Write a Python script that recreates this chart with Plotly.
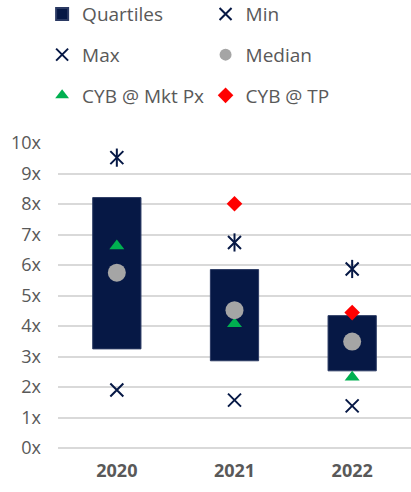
import plotly.graph_objects as go

# Valuation multiples by year
years = ["2020", "2021", "2022"]
q1 = [3.25, 2.86, 2.53]
q3 = [8.21, 5.85, 4.34]
v_min = [1.90, 1.57, 1.38]
v_max = [9.52, 6.74, 5.87]
median = [5.75, 4.52, 3.49]
cyb_mkt = [6.62, 4.07, 2.32]
cyb_tp = [None, 8.01, 4.44]
y_ticks = list(range(0, 11))
y_tick_text = [f"{v}x" for v in y_ticks]

NAVY = "#061845"
GRAY_TXT = "#595959"
FONT = "Open Sans"

fig = go.Figure()

# Inter-quartile box drawn as a floating bar from Q1 to Q3
fig.add_trace(go.Bar(
    x=years, y=[b - a for a, b in zip(q1, q3)], base=q1,
    name="Quartiles", marker=dict(color=NAVY, line=dict(color="#2b3a63", width=1)),
    width=0.41, legend="legend", legendgroup="q", hoverinfo="skip",
))
# Max: an X plus a vertical stroke
fig.add_trace(go.Scatter(
    x=years, y=v_max, mode="markers", name="Max",
    marker=dict(symbol="x-thin", size=13, line=dict(color=NAVY, width=2)),
    legend="legend", legendgroup="max",
))
fig.add_trace(go.Scatter(
    x=years, y=v_max, mode="markers", name="Max", showlegend=False,
    marker=dict(symbol="line-ns", size=13, line=dict(color=NAVY, width=2)),
    legend="legend", legendgroup="max",
))
fig.add_trace(go.Scatter(
    x=years, y=cyb_mkt, mode="markers", name="CYB @ Mkt Px",
    marker=dict(symbol="triangle-up", size=13, color="#00b050"),
    legend="legend", legendgroup="mkt",
))
fig.add_trace(go.Scatter(
    x=years, y=v_min, mode="markers", name="Min",
    marker=dict(symbol="x-thin", size=13, line=dict(color=NAVY, width=2)),
    legend="legend2", legendgroup="min",
))
fig.add_trace(go.Scatter(
    x=years, y=median, mode="markers", name="Median",
    marker=dict(symbol="circle", size=18, color="#a5a5a5"),
    legend="legend2", legendgroup="med",
))
fig.add_trace(go.Scatter(
    x=years, y=cyb_tp, mode="markers", name="CYB @ TP",
    marker=dict(symbol="diamond", size=12, color="#ff0000"),
    legend="legend2", legendgroup="tp",
))

legend_common = dict(
    orientation="v", yref="paper", y=1.485, yanchor="top", xanchor="left",
    font=dict(family=FONT, size=19, color=GRAY_TXT),
    tracegroupgap=13, bgcolor="rgba(0,0,0,0)", itemsizing="constant",
    traceorder="grouped",
)

fig.update_layout(
    width=411, height=492,
    margin=dict(l=58, r=0, t=143, b=44, autoexpand=False),
    paper_bgcolor="white", plot_bgcolor="white",
    font=dict(family=FONT, color=GRAY_TXT),
    showlegend=True,
    legend=dict(x=-0.045, **legend_common),
    legend2=dict(x=0.418, **legend_common),
    xaxis=dict(
        showgrid=False, showline=False, ticks="",
        tickfont=dict(family=FONT, size=18, color=GRAY_TXT, weight="bold"),
        ticklabelstandoff=10,
    ),
    yaxis=dict(
        range=[0, 10], tickvals=y_ticks, ticktext=y_tick_text,
        showgrid=True, gridcolor="#d9d9d9", gridwidth=2,
        zeroline=True, zerolinecolor="#d9d9d9", zerolinewidth=2,
        showline=False, ticks="",
        tickfont=dict(family=FONT, size=18, color=GRAY_TXT),
        ticklabelstandoff=16,
    ),
    bargap=0.59,
)

fig.write_html("out.html")
